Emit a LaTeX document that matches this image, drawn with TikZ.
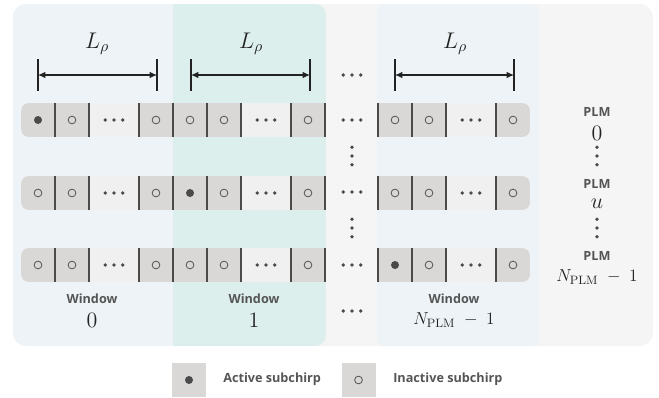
\documentclass[tikz,border=0pt]{standalone}
\usepackage{fix-cm}
\usepackage{fontspec}
\setsansfont{Open Sans}
\usetikzlibrary{arrows.meta}
\definecolor{outerbg}{HTML}{F5F5F5}
\definecolor{winA}{HTML}{EDF3F6}
\definecolor{winB}{HTML}{DCEFED}
\definecolor{cellgray}{HTML}{DAD8D6}
\definecolor{dotsgray}{HTML}{EFF0EF}
\definecolor{divcol}{HTML}{4A4A4A}
\definecolor{textgray}{HTML}{555555}
\definecolor{mathblack}{HTML}{222222}
\definecolor{dotcol}{HTML}{4A4A4A}
\begin{document}
\begin{tikzpicture}[x=0.75pt,y=-0.75pt,
  cellbox/.style={fill=cellgray, draw=none, inner sep=0pt, outer sep=0pt, minimum width=25.5pt, minimum height=25.5pt, anchor=north west},
  dotbox/.style={fill=dotsgray, draw=none, inner sep=0pt, outer sep=0pt, minimum width=37.5pt, minimum height=25.5pt, anchor=north west},
  divider/.style={draw=divcol, line width=1pt},
  hollow/.style={draw=textgray, line width=0.6pt},
  solid dot/.style={fill=dotcol, draw=none},
  lbl/.style={font=\sffamily\bfseries\fontsize{9.5}{11}\selectfont, text=textgray, inner sep=0pt},
  mathL/.style={font=\fontsize{17}{19}\selectfont, text=mathblack, inner sep=0pt},
  num/.style={font=\fontsize{16.5}{18}\selectfont, text=mathblack, inner sep=0pt},
  numN/.style={font=\fontsize{13}{15}\selectfont, text=mathblack, inner sep=0pt},
  dimline/.style={draw=mathblack, line width=0.9pt, {Latex[length=5.5pt,width=5pt]}-{Latex[length=5.5pt,width=5pt]}},
  tickline/.style={draw=mathblack, line width=0.9pt},
  legbox/.style={fill=cellgray, draw=none, inner sep=0pt, minimum width=25.5pt, minimum height=26pt}
]
\useasboundingbox (0,0) rectangle (659,397);

% panels
\fill[outerbg, rounded corners=10] (13,4) rectangle (653,346);
\begin{scope}
  \clip[rounded corners=10] (13,4) rectangle (653,346);
  \fill[winA] (13,4) rectangle (173,346);
\end{scope}
\begin{scope}
  \clip[rounded corners=8] (150,4) rectangle (326,346);
  \fill[winB] (173,4) rectangle (326,346);
\end{scope}
\fill[winA, rounded corners=5] (377,4) rectangle (539,346);

% rows
\foreach \r/\t/\act in {1/103/0, 2/176/1, 3/248/2} {
  \begin{scope}
    \clip[rounded corners=6] (21,\t) rectangle (530,\t+34);
    \foreach \w/\o in {0/21,1/173,2/378} {
      \node[cellbox] (r\r w\w a) at (\o,\t) {};
      \node[cellbox] (r\r w\w b) at (\o+34,\t) {};
      \node[dotbox]  (r\r w\w c) at (\o+68,\t) {};
      \node[cellbox] (r\r w\w d) at (\o+118,\t) {};
    }
  \end{scope}
  \foreach \w in {0,1,2} {
    \ifnum\w=\act
      \fill[solid dot] (r\r w\w a.center) circle[radius=3pt];
    \else
      \draw[hollow] (r\r w\w a.center) circle[radius=2.9pt];
    \fi
    \draw[hollow] (r\r w\w b.center) circle[radius=2.9pt];
    \draw[hollow] (r\r w\w d.center) circle[radius=2.9pt];
    \foreach \dx in {-6.6,0,6.6}
      \fill[solid dot] ([xshift=\dx pt]r\r w\w c.center) circle[radius=1.4pt];
    \draw[divider] (r\r w\w a.north east) -- (r\r w\w a.south east);
    \draw[divider] (r\r w\w b.north east) -- (r\r w\w b.south east);
    \draw[divider] (r\r w\w c.north east) -- (r\r w\w c.south east);
  }
  \draw[divider] (r\r w1a.north west) -- (r\r w1a.south west);
  \draw[divider] (r\r w1d.north east) -- (r\r w1d.south east);
  \draw[divider] (r\r w2a.north west) -- (r\r w2a.south west);
}

% dimension arrows
\foreach \i/\xl/\xr/\xc in {0/38/157/97, 1/191/310/251, 2/395/514/455} {
  \coordinate (dl\i) at (\xl,75);
  \coordinate (dr\i) at (\xr,75);
  \draw[tickline] (\xl,59) -- (\xl,91);
  \draw[tickline] (\xr,59) -- (\xr,91);
  \draw[dimline] (dl\i) -- (dr\i);
  \node[mathL] (Lrho\i) at (\xc,44) {$L_\rho$};
}

% middle column dots
\foreach \y [count=\k] in {75,120,192,265,311} {
  \coordinate (hd\k) at (352,\y);
  \foreach \dx in {-6.6,0,6.6}
    \fill[solid dot] ([xshift=\dx pt]hd\k) circle[radius=1.4pt];
}
\foreach \y [count=\k] in {156,228} {
  \coordinate (vd\k) at (352,\y);
  \coordinate (pv\k) at (597,\y);
  \foreach \dy in {-6.6,0,6.6} {
    \fill[solid dot] ([yshift=\dy pt]vd\k) circle[radius=1.4pt];
    \fill[solid dot] ([yshift=\dy pt]pv\k) circle[radius=1.4pt];
  }
}

% right column labels
\node[lbl] (plm0) at (597,112) {PLM};
\node[num] (plm0n) at (597,133) {$0$};
\node[lbl] (plmu) at (597,184) {PLM};
\node[num] (plmun) at (597,204) {$u$};
\node[lbl] (plmN) at (597,256) {PLM};
\node[numN] (plmNn) at (597,277) {$N_{\mathrm{PLM}}\;-\;1$};

% window labels
\node[lbl] (win0) at (92,299) {Window};
\node[num] (win0n) at (92,320) {$0$};
\node[lbl] (win1) at (254,299) {Window};
\node[num] (win1n) at (254,320) {$1$};
\node[lbl] (win2) at (454,299) {Window};
\node[numN] (win2n) at (454,320) {$N_{\mathrm{PLM}}\;-\;1$};

% legend
\node[legbox] (legA) at (189,380) {};
\fill[solid dot] (legA.center) circle[radius=3pt];
\node[lbl, anchor=west] (legAt) at (223,379) {Active subchirp};
\node[legbox] (legI) at (358.5,380) {};
\draw[hollow] (legI.center) circle[radius=2.9pt];
\node[lbl, anchor=west] (legIt) at (393,379) {Inactive subchirp};
\end{tikzpicture}
\end{document}
